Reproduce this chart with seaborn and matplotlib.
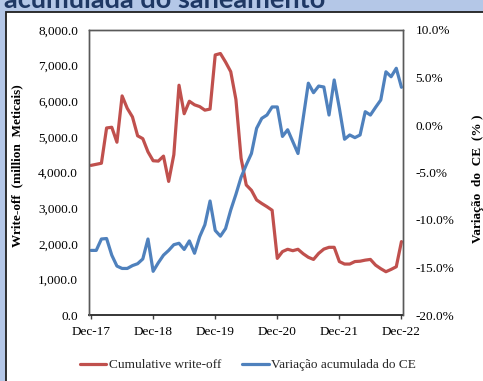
import matplotlib
matplotlib.use("Agg")
import matplotlib.pyplot as plt
import numpy as np
import pandas as pd
import seaborn as sns
from matplotlib.patches import Rectangle
from matplotlib.lines import Line2D

# Monthly series, Dec-2017 .. Dec-2022
months = pd.date_range("2017-12-01", "2022-12-01", freq="MS")

# Cumulative write-off (million Meticais)
write_off = [
    4200, 4230, 4260, 5250, 5270, 4850, 6150, 5800, 5560, 5030,
    4950, 4580, 4330, 4320, 4460, 3750, 4500, 6450, 5650, 6000,
    5900, 5850, 5750, 5780, 7300, 7340, 7100, 6830, 6050, 4400,
    3650, 3500, 3230, 3130, 3040, 2940, 1590, 1780, 1845, 1805,
    1845, 1720, 1620, 1560, 1730, 1850, 1900, 1900, 1500, 1430,
    1430, 1500, 1510, 1540, 1560, 1400, 1300, 1215, 1280, 1355,
    2060,
]

# Accumulated change of the exchange rate (%)
ce_var = [
    -13.2, -13.2, -12.0, -11.95, -13.7, -14.85, -15.1, -15.1, -14.8, -14.6,
    -14.1, -12.0, -15.4, -14.5, -13.7, -13.2, -12.6, -12.45, -13.1, -12.2,
    -13.5, -11.75, -10.5, -8.0, -11.1, -11.7, -10.9, -8.95, -7.3, -5.5,
    -4.2, -3.0, -0.35, 0.7, 1.05, 1.9, 1.9, -1.2, -0.5, -1.75,
    -3.0, 0.7, 4.4, 3.4, 4.1, 4.0, 1.05, 4.74, 1.76, -1.5,
    -1.05, -1.33, -1.05, 1.4, 1.05, 1.86, 2.63, 5.6, 5.08, 5.97,
    3.97,
]

x_tick_labels = ["Dec-17", "Dec-18", "Dec-19", "Dec-20", "Dec-21", "Dec-22"]
left_ticks = [0, 1000, 2000, 3000, 4000, 5000, 6000, 7000, 8000]
right_ticks = [-20, -15, -10, -5, 0, 5, 10]

label_red = "Cumulative write-off"
label_blue = "Variação acumulada do CE"

df = pd.DataFrame({
    "t": np.arange(len(months)),
    "write_off": write_off,
    "ce_var": ce_var,
})

sns.set_theme(style="white")
plt.rcParams["font.family"] = ["Liberation Serif", "DejaVu Serif"]
plt.rcParams["axes.unicode_minus"] = False

RED = "#c0504d"
BLUE = "#4f81bd"
W, H = 483, 381

fig = plt.figure(figsize=(W / 100, H / 100), dpi=100)
fig.patch.set_facecolor("#b4c7e7")

# white slide panel behind the chart
panel = Rectangle((6 / W, -0.1), 1.2, (H - 12) / H + 0.1, transform=fig.transFigure,
                  facecolor="white", edgecolor="#1f1f1f", linewidth=1.3, zorder=-5)
fig.patches.append(panel)

fig.text(4 / W, 1 - 8 / H, "acumulada do saneamento", family="Lato", weight="bold",
         fontsize=19.5, color="#1f3864", va="baseline", ha="left", zorder=-4)

ax = fig.add_axes([89 / W, 1 - 315 / H, 314 / W, 285 / H])
ax2 = ax.twinx()
ax.set_zorder(1)
ax2.set_zorder(2)
ax2.patch.set_visible(False)

sns.lineplot(data=df, x="t", y="write_off", ax=ax, color=RED, linewidth=2.3)
sns.lineplot(data=df, x="t", y="ce_var", ax=ax2, color=BLUE, linewidth=2.3)

ax.set_xlim(-0.4, 60.3)
ax.set_xticks(np.arange(0, len(months), 12))
ax.set_xticklabels(x_tick_labels)
ax.set_ylim(0, 8000)
ax.set_yticks(left_ticks)
ax.set_yticklabels([f"{v:,.1f}" for v in left_ticks])
ax2.set_ylim(-20, 10)
ax2.set_yticks(right_ticks)
ax2.set_yticklabels([f"{v:.1f}%" for v in right_ticks])

ax.set_xlabel("")
ax.set_ylabel("Write-off  (million  Meticais)", fontsize=9.5, weight="bold", color="black")
ax2.set_ylabel("Variação  do  CE  (% )", fontsize=9.5, weight="bold", color="black")
ax.yaxis.set_label_coords((23 - 89) / 314, (315 - 166) / 285)
ax2.yaxis.set_label_coords((472 - 89) / 314, (315 - 179) / 285)

ax.tick_params(axis="y", left=False, length=0, pad=8, labelsize=9.5, labelcolor="black")
ax.tick_params(axis="x", bottom=True, length=3, width=1, direction="out", pad=5,
               labelsize=9.5, labelcolor="black", color="#404040")
ax2.tick_params(axis="y", right=False, length=0, pad=9, labelsize=9.5, labelcolor="black")

for a in (ax, ax2):
    for name, sp in a.spines.items():
        sp.set_visible(True)
        sp.set_color("#595959")
        sp.set_linewidth(1.0)
ax.spines["bottom"].set_color("#262626")
ax.spines["bottom"].set_linewidth(1.3)
ax2.spines["bottom"].set_visible(False)

handles = [Line2D([], [], color=RED, lw=2.3), Line2D([], [], color=BLUE, lw=2.3)]
fig.legend(handles, [label_red, label_blue], loc="center", bbox_to_anchor=(248 / W, 1 - 365 / H),
           ncol=2, frameon=False, fontsize=9.5, handlelength=2.0, handletextpad=0.2,
           columnspacing=1.6)

fig.savefig("out.png", dpi=100, facecolor=fig.get_facecolor())
